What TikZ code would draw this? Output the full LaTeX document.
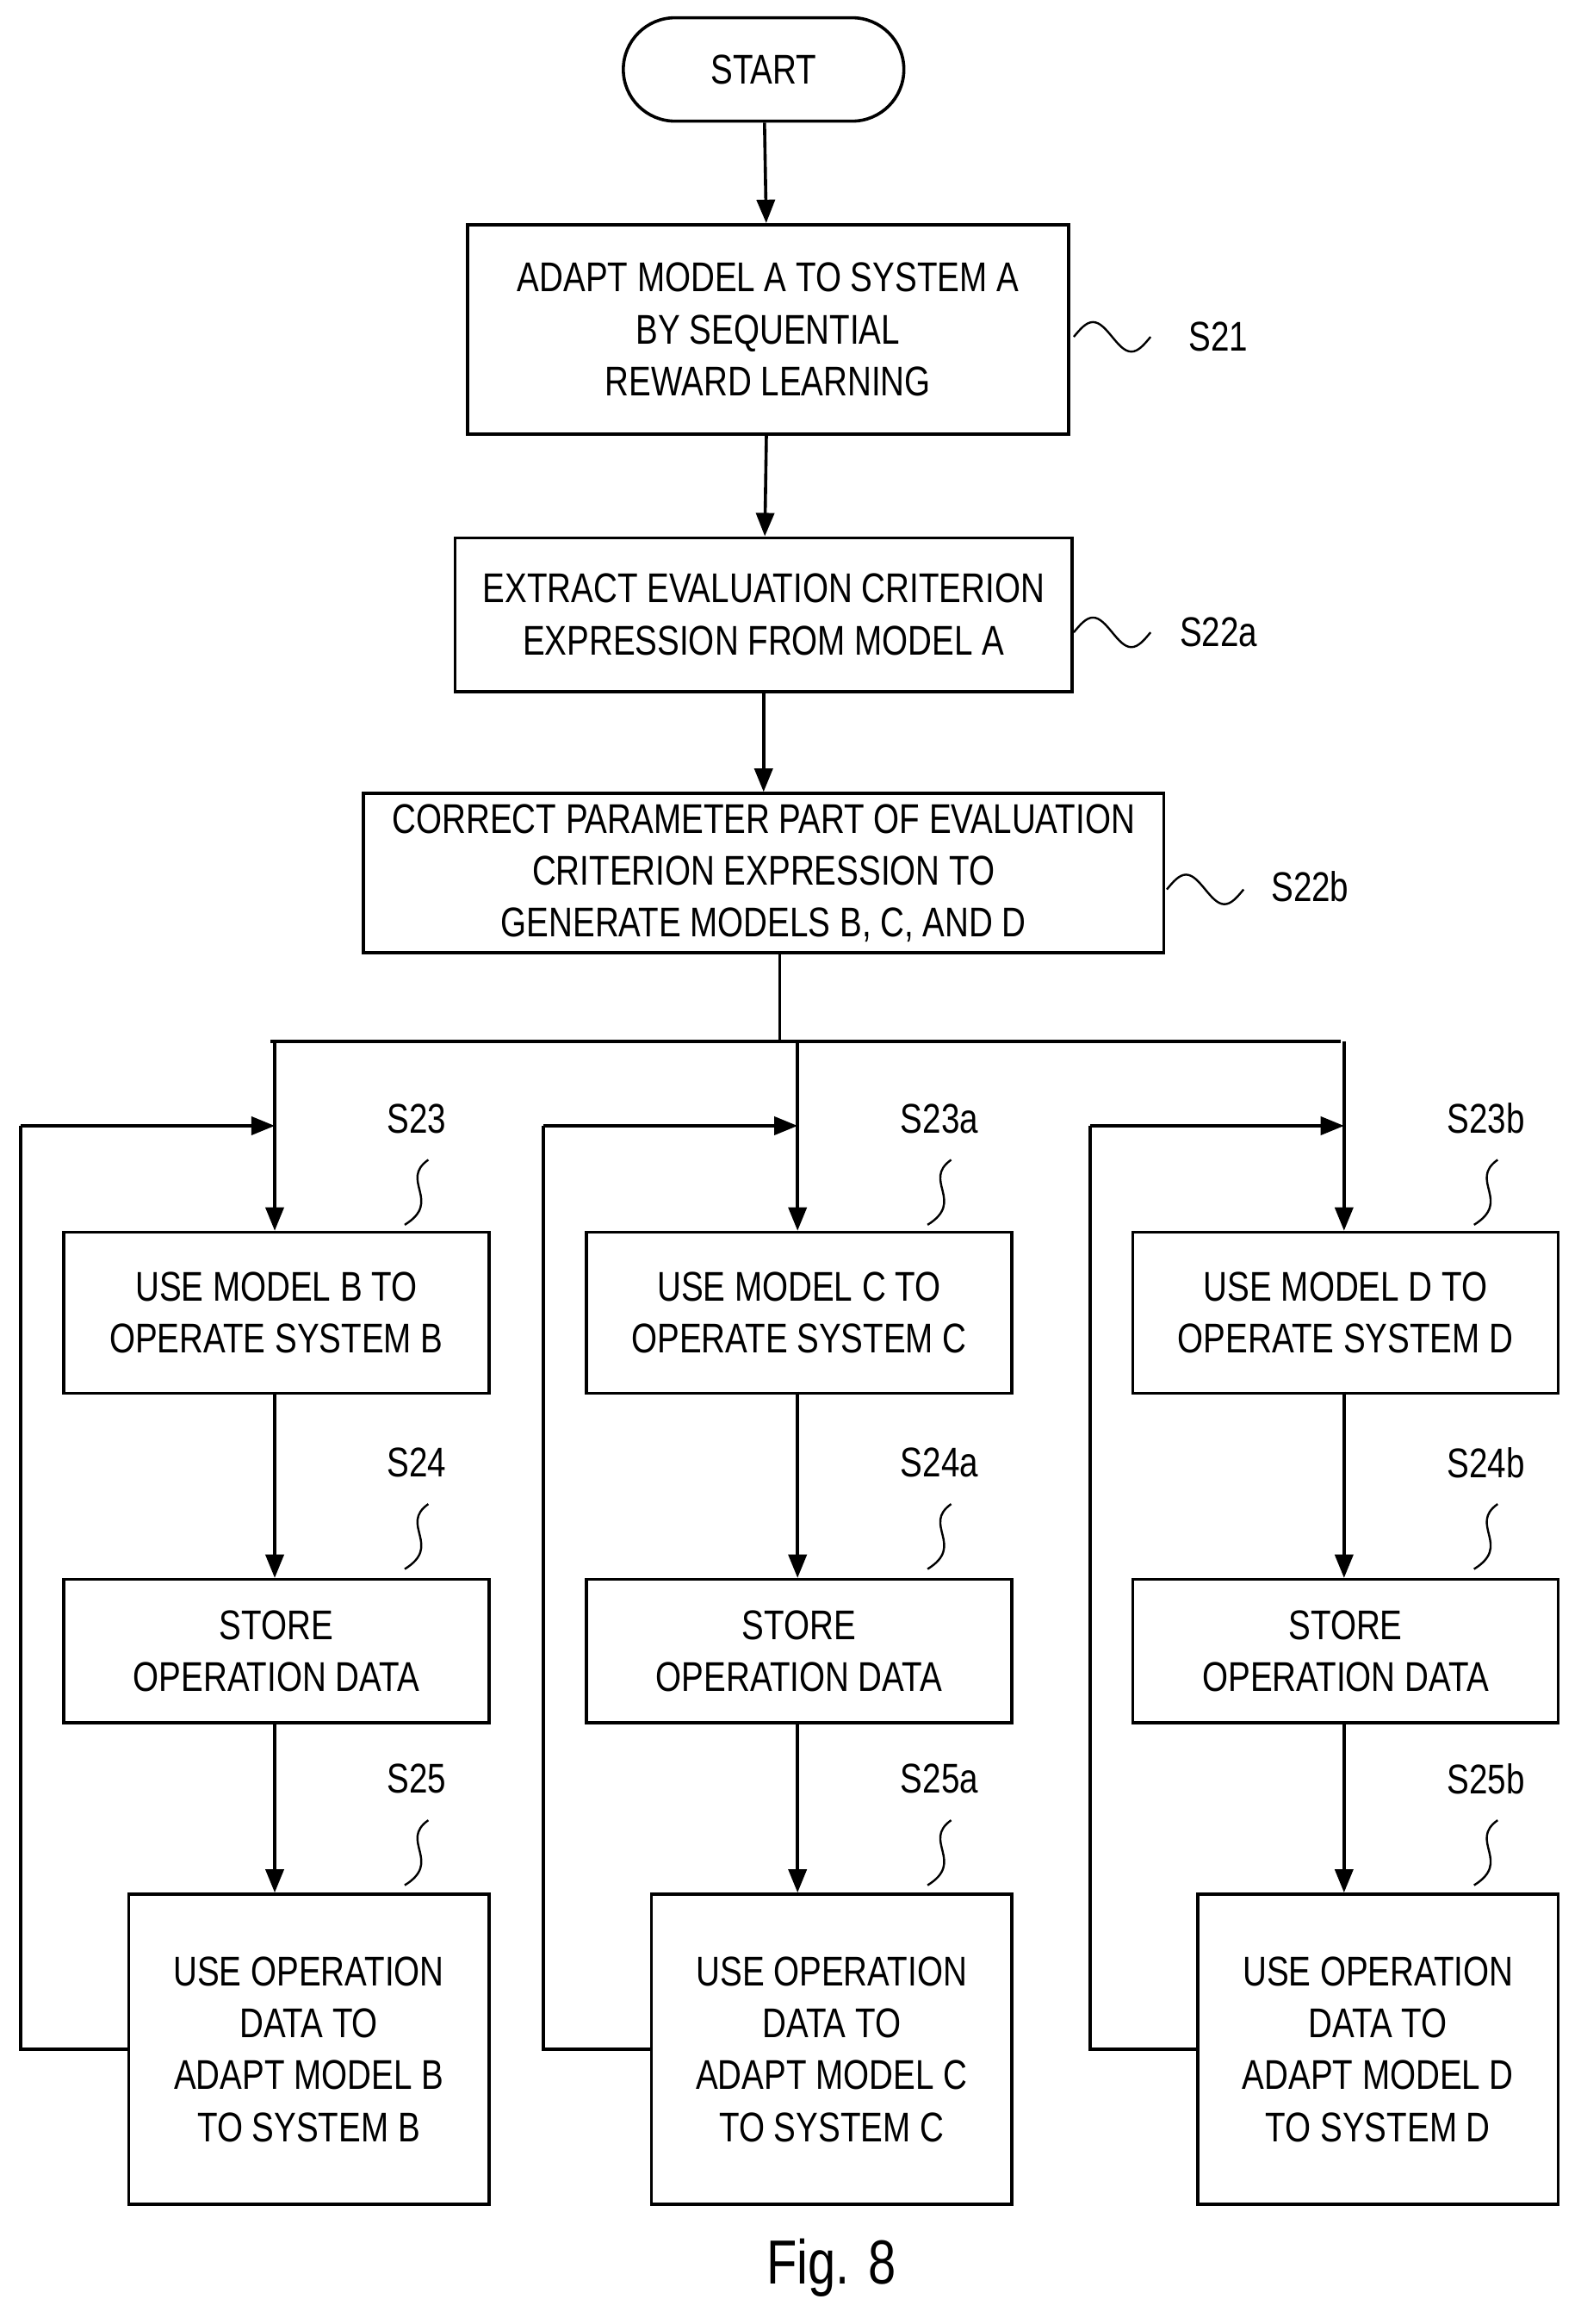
\documentclass[tikz,border=0pt]{standalone}
\usepackage{fontspec}
\setmainfont[FakeStretch=0.8]{Liberation Sans}
\usetikzlibrary{arrows.meta}
\usetikzlibrary{shapes.misc}

\tikzset{
    proc/.style = {draw, line width=1.2pt, align=center, inner sep=0pt,
        font=\fontsize{16}{20}\selectfont},
    flow/.style = {line width=1.2pt, -{Triangle[length=9pt, width=7pt]}},
    line/.style = {line width=1.2pt},
    tag/.style = {font=\fontsize{16}{20}\selectfont},
    wave/.style = {line width=0.8pt},
}

\begin{document}
\begin{tikzpicture}[x=0.02cm, y=-0.02cm]
    \useasboundingbox (0, 0) rectangle (1070, 1573);
    \node[proc, rounded rectangle, minimum width=3.8cm, minimum height=1.4cm] (start) at (517, 47) {START};
    \node[proc, minimum width=8.14cm, minimum height=2.84cm] (s21) at (520, 223) {ADAPT MODEL A TO SYSTEM A\\BY SEQUENTIAL\\REWARD LEARNING};
    \node[proc, minimum width=8.36cm, minimum height=2.08cm] (s22a) at (517, 416) {EXTRACT EVALUATION CRITERION\\EXPRESSION FROM MODEL A};
    \node[proc, minimum width=10.84cm, minimum height=2.16cm] (s22b) at (517, 591) {CORRECT PARAMETER PART OF EVALUATION\\CRITERION EXPRESSION TO\\GENERATE MODELS B, C, AND D};
    \draw[flow] (start) -- (s21);
    \draw[flow] (s21) -- (s22a);
    \draw[flow] (s22a) -- (s22b);
    % labels of the upper steps
    \node[tag] (l21) at (825, 228) {S21};
    \node[tag] (l22a) at (825, 428) {S22a};
    \node[tag] (l22b) at (887, 600) {S22b};
    \draw[wave] (727, 228) sin (740, 218) cos (753, 228) sin (766, 238) cos (779, 228);
    \draw[wave] (727, 428) sin (740, 418) cos (753, 428) sin (766, 438) cos (779, 428);
    \draw[wave] (790, 602) sin (803, 592) cos (816, 602) sin (829, 612) cos (842, 602);
    % branch
    \coordinate (split) at (528, 705);
    \draw[line] (s22b.south -| split) -- (split);
    \draw[line] (183, 705) -- (908, 705);
    % three columns
    \foreach \col/\x/\l/\m/\suf in {b/186/42/B/, c/540/396/C/a, d/910/766/D/b} {
        \node[proc, anchor=north west, minimum width=5.76cm, minimum height=2.18cm] (use\col) at (\l, 833) {USE MODEL \m\ TO\\OPERATE SYSTEM \m};
        \node[proc, anchor=north west, minimum width=5.76cm, minimum height=1.94cm] (store\col) at (\l, 1068) {STORE\\OPERATION DATA};
        \node[proc, anchor=north west, minimum width=4.88cm, minimum height=4.2cm] (adapt\col) at (\l+44, 1281) {USE OPERATION\\DATA TO\\ADAPT MODEL \m\\TO SYSTEM \m};
        \draw[flow] (\x, 705) -- (\x, 833);
        \draw[flow] (\x, 942) -- (\x, 1068);
        \draw[flow] (\x, 1165) -- (\x, 1281);
        \coordinate (back\col) at (\l-28, 762);
        \draw[line] (adapt\col.west) -| (back\col);
        \draw[flow] (back\col) -- (\x, 762);
        \node[tag] at (\x+96, 757) {S23\suf};
        \node[tag] at (\x+96, 990) {S24\suf};
        \node[tag] at (\x+96, 1204) {S25\suf};
        \foreach \y in {785, 1018, 1232}
            \draw[wave] (\x+104, \y) .. controls (\x+84, \y+14) and (\x+114, \y+28) .. (\x+88, \y+44);
    }
    \node[font=\fontsize{24}{28}\selectfont] (fig) at (563, 1535) {Fig. 8};
\end{tikzpicture}
\end{document}
